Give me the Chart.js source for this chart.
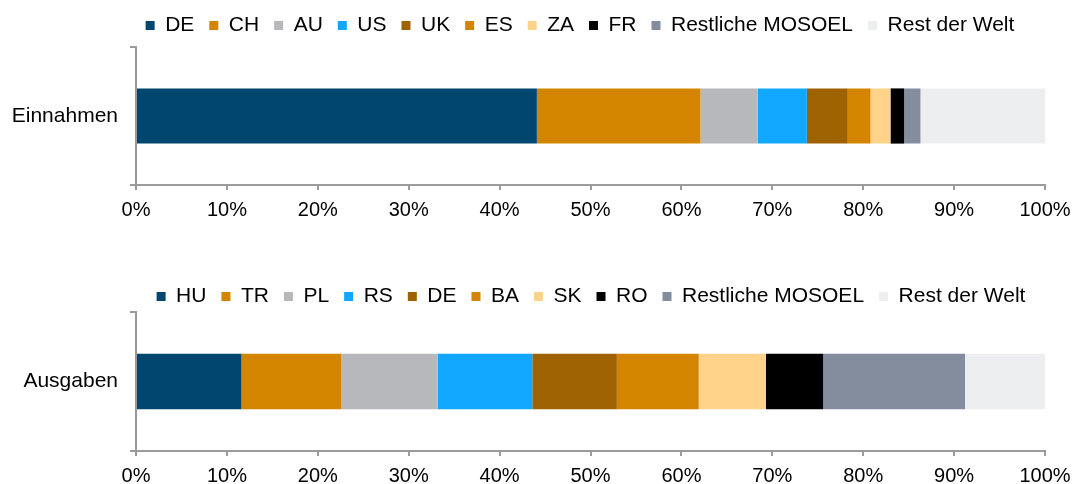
<!DOCTYPE html>
<html>
<head>
<meta charset="utf-8">
<script src="https://cdn.jsdelivr.net/npm/chart.js@4.4.1/dist/chart.umd.min.js"></script>
<style>
  html, body { margin: 0; padding: 0; background: #fff; overflow: hidden; }
  .box { position: absolute; left: 0; width: 1079px; }
  #oben { top: 0; height: 242px; }
  #unten { top: 271px; height: 213px; }
</style>
</head>
<body>
<div class="box" id="oben"><canvas id="chartOben"></canvas></div>
<div class="box" id="unten"><canvas id="chartUnten"></canvas></div>
<script>
// Einnahmen
const laenderEin = ["DE", "CH", "AU", "US", "UK", "ES", "ZA", "FR", "Restliche MOSOEL", "Rest der Welt"];
const werteEin = [44.1, 18.0, 6.3, 5.4, 4.5, 2.5, 2.2, 1.5, 1.8, 13.7];

// Ausgaben
const laenderAus = ["HU", "TR", "PL", "RS", "DE", "BA", "SK", "RO", "Restliche MOSOEL", "Rest der Welt"];
const werteAus = [11.6, 11.0, 10.6, 10.4, 9.3, 9.0, 7.4, 6.3, 15.6, 8.8];

const xTicks = [0, 10, 20, 30, 40, 50, 60, 70, 80, 90, 100];

const farben = ["#00466E", "#D48500", "#B7B8BC", "#12A7FF", "#9E6300", "#D48500", "#FFD38A", "#000000", "#848D9E", "#EDEEF0"];

const schrift = "'Liberation Sans', Arial, sans-serif";
const achsenFarbe = "#9b9b9b";

function erstelleChart(canvasId, kategorie, laender, werte, legendeExtra, achsenHoehe, legendeMitte) {
    const ctx = document.getElementById(canvasId).getContext("2d");

    // Legende: Höhe anpassen und horizontal über dem Diagramm zentrieren
    const legendePlugin = {
        id: "legendeLage",
        beforeInit(chart) {
            const fitOrig = chart.legend.fit;
            chart.legend.fit = function () {
                fitOrig.bind(chart.legend)();
                this.height += legendeExtra;
            };
        },
        afterLayout(chart) {
            const lg = chart.legend;
            const dx = legendeMitte - (lg.left + lg.right) / 2;
            lg.left += dx;
            lg.right += dx;
        }
    };

    return new Chart(ctx, {
        type: "bar",
        data: {
            labels: [kategorie],
            datasets: laender.map((land, i) => ({
                label: land,
                data: [werte[i]],
                backgroundColor: farben[i],
                borderWidth: 0,
                categoryPercentage: 1,
                barPercentage: 0.4,
            })),
        },
        options: {
            indexAxis: "y",
            responsive: true,
            maintainAspectRatio: false,
            animation: false,
            layout: { padding: { left: 0, right: 34, top: 0, bottom: 0 } },
            plugins: {
                legend: {
                    position: "top",
                    labels: {
                        boxWidth: 9,
                        boxHeight: 9,
                        padding: 15,
                        color: "#000",
                        font: { family: schrift, size: 21 },
                    },
                },
                tooltip: { enabled: false },
            },
            scales: {
                x: {
                    stacked: true,
                    min: 0,
                    max: 100,
                    afterBuildTicks: (scale) => {
                        scale.ticks = xTicks.map(v => ({ value: v }));
                    },
                    afterFit: (scale) => { scale.height = achsenHoehe; },
                    ticks: {
                        color: "#000",
                        padding: 8,
                        font: { family: schrift, size: 20 },
                        callback: (v) => v + "%",
                    },
                    grid: {
                        drawOnChartArea: false,
                        drawTicks: true,
                        tickLength: 5,
                        color: achsenFarbe,
                        lineWidth: 2,
                    },
                    border: { color: achsenFarbe, width: 2 },
                },
                y: {
                    stacked: true,
                    afterFit: (scale) => { scale.width = 136; },
                    ticks: {
                        color: "#000",
                        padding: 12,
                        font: { family: schrift, size: 21 },
                    },
                    grid: {
                        offset: true,
                        drawOnChartArea: false,
                        drawTicks: true,
                        tickLength: 6,
                        color: achsenFarbe,
                        lineWidth: 2,
                    },
                    border: { color: achsenFarbe, width: 2 },
                },
            },
        },
        plugins: [legendePlugin],
    });
}

erstelleChart("chartOben", "Einnahmen", laenderEin, werteEin, 1, 57, 580);
erstelleChart("chartUnten", "Ausgaben", laenderAus, werteAus, -5, 33, 591);
</script>
</body>
</html>
